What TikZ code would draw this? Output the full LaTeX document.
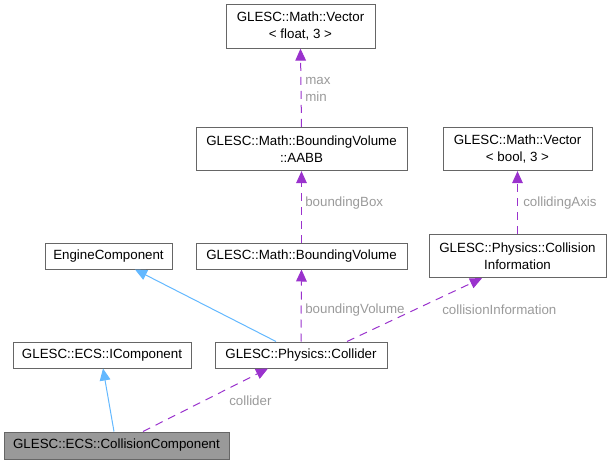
\documentclass[tikz,border=0pt]{standalone}
\usepackage{fontspec}
\setmainfont{Liberation Sans}
\usetikzlibrary{arrows.meta,calc}
\definecolor{edgepurple}{HTML}{9A32CD}
\definecolor{inhblue}{HTML}{63B8FF}
\definecolor{boxborder}{HTML}{666666}
\definecolor{labelgrey}{HTML}{9A9A9A}
\definecolor{curfill}{HTML}{999999}
\begin{document}
\begin{tikzpicture}[x=0.75pt,y=-0.75pt,
  every node/.style={font=\fontsize{10}{12.75}\selectfont},
  cls/.style={draw=boxborder, line width=0.75pt, fill=white, inner sep=0pt, align=center, minimum height=19.5pt},
  twoline/.style={minimum height=32.5pt},
  cur/.style={fill=curfill},
  dep/.style={draw=edgepurple, line width=0.75pt, dash pattern=on 6pt off 4.5pt, -{Triangle[length=9pt,width=8pt,fill=edgepurple]}},
  inh/.style={draw=inhblue, line width=0.75pt, -{Triangle[length=9pt,width=8pt,fill=inhblue]}},
  lbl/.style={text=labelgrey, anchor=west, inner sep=0pt}
]
\useasboundingbox (0,0) rectangle (612,464);
% classes
\node[cls, twoline, minimum width=111.75pt] (vf) at (300.5,26.5) {GLESC::Math::Vector\\< float, 3 >};
\node[cls, twoline, minimum width=158.25pt] (aabb) at (301.5,149) {GLESC::Math::BoundingVolume\\::AABB};
\node[cls, minimum width=158.25pt] (bv) at (301.5,256) {GLESC::Math::BoundingVolume};
\node[cls, twoline, minimum width=111.75pt] (vb) at (517.5,149) {GLESC::Math::Vector\\< bool, 3 >};
\node[cls, twoline, minimum width=132.75pt] (ci) at (517.5,256) {GLESC::Physics::Collision\\Information};
\node[cls, minimum width=95.25pt] (ec) at (108.5,256) {EngineComponent};
\node[cls, minimum width=133.5pt] (ic) at (102,355) {GLESC::ECS::IComponent};
\node[cls, minimum width=129pt] (col) at (301,355) {GLESC::Physics::Collider};
\node[cls, cur, minimum width=168.75pt, minimum height=20.25pt] (cc) at (116.5,445.5) {GLESC::ECS::CollisionComponent};
% edges
\draw[dep] (aabb.north) -- (vf.south);
\draw[dep] (bv.north) -- (aabb.south);
\draw[dep] (col.north) -- (bv.south);
\draw[dep] (ci.north) -- (vb.south);
\draw[dep] ($(col.north)+(46,0)$) -- ($(ci.south)+(-35.5,0)$);
\draw[inh] ($(col.north)+(-25,0)$) -- ($(ec.south)+(26.5,0)$);
\draw[inh] ($(cc.north)+(-2.5,0)$) -- ($(ic.south)+(1,0)$);
\draw[dep] ($(cc.north)+(26.5,0)$) -- ($(col.south)+(-33,0)$);
% labels
\node[lbl] (lmax) at (305,81) {max};
\node[lbl] (lmin) at (305,97) {min};
\node[lbl] (lbb) at (305,203) {boundingBox};
\node[lbl] (lbv) at (305,310) {boundingVolume};
\node[lbl] (lca) at (523,203) {collidingAxis};
\node[lbl] (lci) at (442,310) {collisionInformation};
\node[lbl] (lcol) at (229,401) {collider};
\end{tikzpicture}
\end{document}
